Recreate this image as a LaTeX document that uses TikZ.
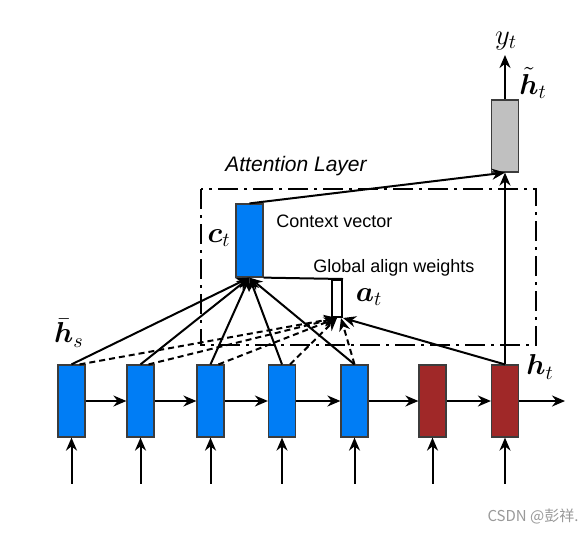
\documentclass[tikz,border=0pt]{standalone}
\usepackage{fontspec}
\setmainfont{Liberation Sans}
\newfontfamily\cjk{Noto Sans CJK SC}
\usepackage{amsmath}
\usepackage{tikz}
\usetikzlibrary{arrows.meta,positioning,calc}
\definecolor{EncBlue}{RGB}{0,125,245}
\definecolor{DecRed}{RGB}{160,40,40}
\definecolor{OutGray}{RGB}{192,192,192}
\definecolor{BoxEdge}{RGB}{60,60,60}

\begin{document}
\begin{tikzpicture}[x=0.5pt,y=-0.5pt,
  cell/.style={draw=BoxEdge,line width=0.6pt,inner sep=0pt,
               minimum width=13.5pt,minimum height=36pt},
  enc/.style={cell,fill=EncBlue},
  dec/.style={cell,fill=DecRed},
  arr/.style={-{Stealth[length=6.5pt,width=5.5pt]},line width=1pt},
  dsh/.style={arr,dash pattern=on 3pt off 2pt},
  lbl/.style={font=\fontsize{14.4}{17}\selectfont,inner sep=0pt},
  txt/.style={font=\fontsize{9}{11}\selectfont,inner sep=0pt,anchor=west},
]
\useasboundingbox (0,0) rectangle (588,532);
% attention layer frame
\draw[line width=1pt,dash pattern=on 10pt off 3pt on 1.5pt off 3pt]
  (201,189) rectangle (536,345);
\node[font=\fontsize{10.5}{12}\selectfont\itshape,anchor=west,inner sep=0pt]
  (attn) at (225,166) {Attention Layer};

% source and target cells
\node[enc] (s1) at (71.5,401) {};
\node[enc] (s2) at (140.5,401) {};
\node[enc] (s3) at (210.5,401) {};
\node[enc] (s4) at (282,401) {};
\node[enc] (s5) at (354.5,401) {};
\node[dec] (d1) at (432.5,401) {};
\node[dec] (ht) at (505,401) {};
\node[cell,fill=EncBlue,minimum height=36.5pt] (ct) at (249.5,240.5) {};
\node[cell,fill=OutGray] (hh) at (505,136) {};
\node[draw,line width=1pt,inner sep=0pt,minimum width=5pt,minimum height=18.5pt]
  (at) at (337,298.5) {};
\coordinate (yt) at (505,55);
\coordinate (ahead) at (565,401);

% recurrent chain
\draw[arr] (s1) -- (s2);
\draw[arr] (s2) -- (s3);
\draw[arr] (s3) -- (s4);
\draw[arr] (s4) -- (s5);
\draw[arr] (s5) -- (d1);
\draw[arr] (d1) -- (ht);
\draw[arr] (ht) -- (ahead);

% inputs
\draw[arr] ([yshift=-23pt]s1.south) -- (s1);
\draw[arr] ([yshift=-23pt]s2.south) -- (s2);
\draw[arr] ([yshift=-23pt]s3.south) -- (s3);
\draw[arr] ([yshift=-23pt]s4.south) -- (s4);
\draw[arr] ([yshift=-23pt]s5.south) -- (s5);
\draw[arr] ([yshift=-23pt]d1.south) -- (d1);
\draw[arr] ([yshift=-23pt]ht.south) -- (ht);

% context vector
\draw[arr] (s1.north) -- (ct.south);
\draw[arr] (s2.north) -- (ct.south);
\draw[arr] (s3.north) -- (ct.south);
\draw[arr] (s4.north) -- (ct.south);
\draw[arr] (s5.north) -- (ct.south);
\draw[line width=1pt] (ct.south east) -- (at.north east);

% align weights
\draw[dsh] ([xshift=4pt]s1.north) -- (at.south);
\draw[dsh] ([xshift=4pt]s2.north) -- (at.south);
\draw[dsh] ([xshift=4pt]s3.north) -- (at.south);
\draw[dsh] ([xshift=4pt]s4.north) -- (at.south);
\draw[dsh] (s5.north) -- ([xshift=2pt]at.south);
\draw[arr] (ht.north) -- ([xshift=3pt]at.south);

% attentional output
\draw[arr] (ct.north) -- (hh.south);
\draw[arr] (ht.north) -- (hh.south);
\draw[arr] (hh.north) -- (yt);

% labels
\node[lbl] (ylab) at (506,41) {$y_t$};
\node[lbl] (hhlab) at (533,83) {$\tilde{\boldsymbol{h}}_t$};
\node[lbl] (ctlab) at (219,238) {$\boldsymbol{c}_t$};
\node[lbl] (atlab) at (369,297) {$\boldsymbol{a}_t$};
\node[lbl] (hslab) at (69,333) {$\bar{\boldsymbol{h}}_s$};
\node[lbl] (htlab) at (540,367) {$\boldsymbol{h}_t$};
\node[txt] (cvtxt) at (276,221) {Context vector};
\node[txt] (gawtxt) at (313,268) {Global align weights};
\node[font=\cjk\fontsize{7.5}{9}\selectfont,text=gray!80,inner sep=0pt]
  (mark) at (533,516) {CSDN @彭祥.};
\end{tikzpicture}
\end{document}
